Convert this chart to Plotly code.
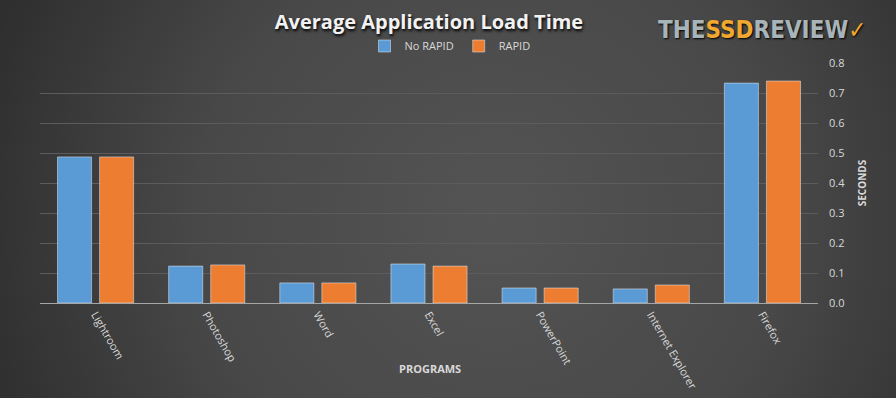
import plotly.graph_objects as go
import urllib.parse

programs = ["Lightroom", "Photoshop", "Word", "Excel", "PowerPoint", "Internet Explorer", "Firefox"]
no_rapid = [0.487, 0.123, 0.067, 0.130, 0.050, 0.047, 0.733]
rapid = [0.487, 0.127, 0.067, 0.123, 0.050, 0.060, 0.740]
y_ticks = [0.0, 0.1, 0.2, 0.3, 0.4, 0.5, 0.6, 0.7, 0.8]

font_family = "Open Sans, Noto Sans, DejaVu Sans, sans-serif"
txt = "#d9d9d9"

W, H = 896, 398
ML, MR, MT, MB = 40, 78, 63, 95
PW, PH = W - ML - MR, H - MT - MB

fig = go.Figure()
fig.add_trace(go.Bar(name="No RAPID", x=programs, y=no_rapid, marker_color="#5B9BD5"))
fig.add_trace(go.Bar(name="RAPID", x=programs, y=rapid, marker_color="#ED7D31"))

svg = (
    "<svg xmlns='http://www.w3.org/2000/svg' width='896' height='398' preserveAspectRatio='none' viewBox='0 0 896 398'>"
    "<defs><radialGradient id='g' cx='0.55' cy='0.55' r='0.6' gradientTransform='translate(0.55 0.55) scale(1 2.2) translate(-0.55 -0.55)'>"
    "<stop offset='0' stop-color='#545454'/><stop offset='0.55' stop-color='#484848'/><stop offset='1' stop-color='#2e2e2e'/>"
    "</radialGradient></defs><rect width='896' height='398' fill='url(#g)'/></svg>"
)
src = "data:image/svg+xml;charset=utf-8," + urllib.parse.quote(svg)

fig.update_layout(
    width=W, height=H,
    paper_bgcolor="#424242", plot_bgcolor="rgba(0,0,0,0)",
    margin=dict(l=ML, r=MR, t=MT, b=MB, autoexpand=False),
    barmode="group", bargap=0.243, bargroupgap=0.19,
    font=dict(family=font_family, color=txt, size=11),
    images=[dict(source=src, xref="paper", yref="paper", x=-ML / PW, y=1 + MT / PH,
                 sizex=W / PW, sizey=H / PH, xanchor="left", yanchor="top",
                 sizing="stretch", layer="below")],
    title=dict(text="<b>Average Application Load Time</b>", x=0.5, xanchor="center",
               xref="paper", y=1 - 22 / H, yanchor="middle",
               font=dict(size=20, color="#f2f2f2", family=font_family,
                         shadow="1px 2px 3px #000000")),
    legend=dict(orientation="h", x=(450 - ML) / PW, xanchor="center", xref="paper",
                y=1 + (MT - 46) / PH, yanchor="middle", itemwidth=30,
                font=dict(size=11, color=txt), bgcolor="rgba(0,0,0,0)",
                traceorder="normal"),
    xaxis=dict(tickangle=60, showgrid=False, showline=True, linecolor="#a6a6a6", linewidth=1,
               tickfont=dict(size=11, color=txt), automargin=False),
    yaxis=dict(side="right", range=[0, 0.8], tickvals=y_ticks, tickformat=".1f",
               gridcolor="#5c5c5c", gridwidth=1, zeroline=False, automargin=False,
               tickfont=dict(size=11, color=txt), ticklabelstandoff=10,
               title=dict(text="<b>SECONDS</b>", font=dict(size=10, color=txt), standoff=14)),
    showlegend=True,
)

fig.add_annotation(xref="paper", yref="paper", x=(430 - ML) / PW, y=-(368 - MT - PH) / PH,
                   xanchor="center", yanchor="middle", showarrow=False,
                   text="<b>PROGRAMS</b>", font=dict(size=11, color=txt))

# Logo text
fig.add_annotation(xref="paper", yref="paper", x=(868 - ML) / PW, y=1 + (MT - 30) / PH,
                   xanchor="right", yanchor="middle", showarrow=False,
                   text="<b><span style='color:#a7b4ba'>THE</span><span style='color:#f0a830'>SSD</span><span style='color:#a7b4ba'>REVIEW</span><span style='color:#f0a830'>✓</span></b>",
                   font=dict(size=24, family="DejaVu Sans Condensed, DejaVu Sans, sans-serif",
                             shadow="1px 1px 2px #000000"))

fig.write_html("out.html", config={"displayModeBar": False},
               post_script="document.body.style.margin='0';document.body.style.overflow='hidden';")
